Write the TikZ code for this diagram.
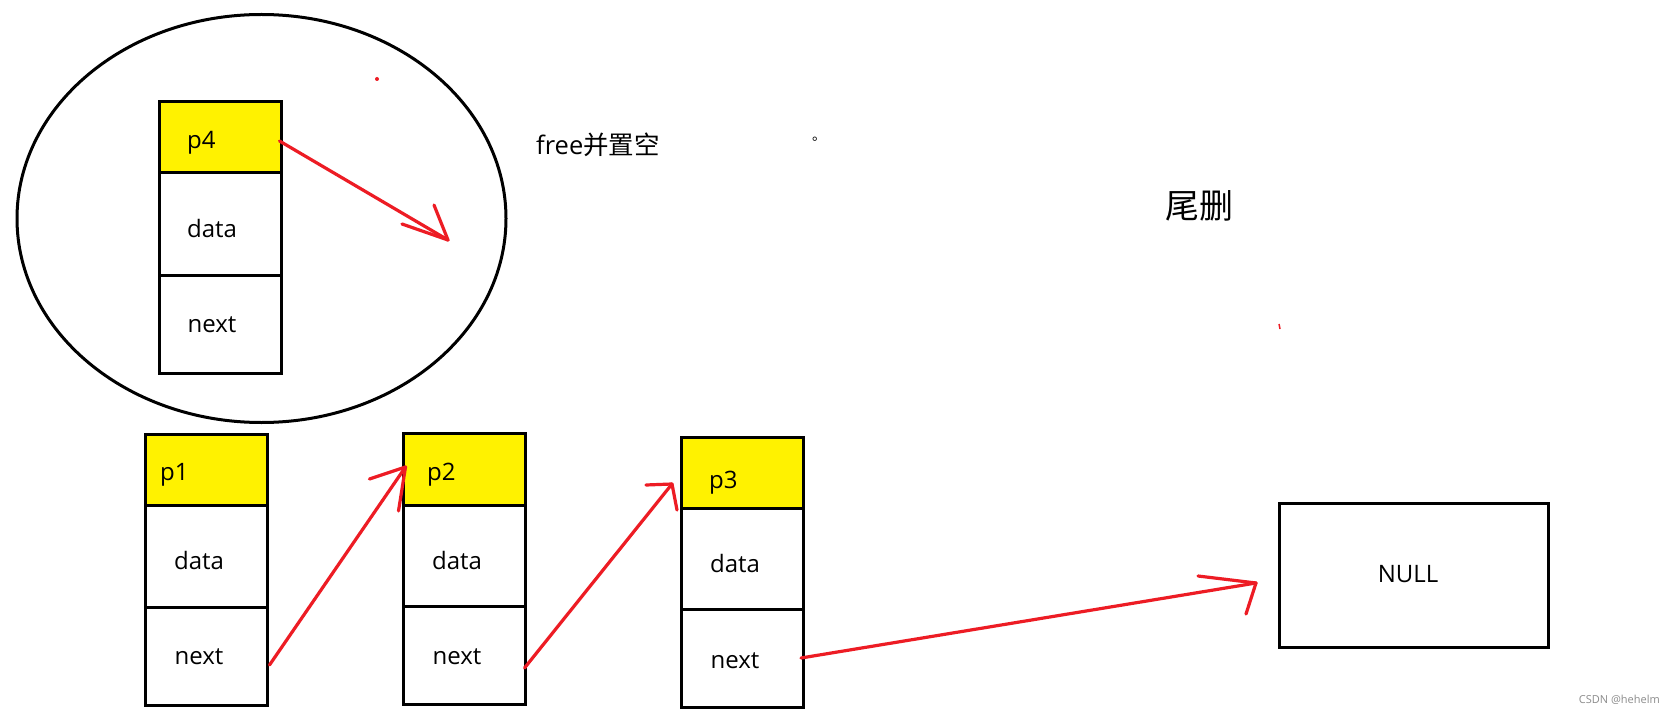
\documentclass[tikz,border=0pt]{standalone}
\usepackage{fontspec}
\setmainfont{Open Sans}
\newfontfamily\cjk{Noto Sans CJK SC}
\usetikzlibrary{calc,shapes.geometric}
\definecolor{pred}{RGB}{237,28,36}
\definecolor{pyellow}{RGB}{255,242,0}
\begin{document}
\begin{tikzpicture}[x=1pt,y=-1pt,
  cell/.style={draw=black, line width=3, inner sep=0, outer sep=0, minimum width=122},
  head/.style={cell, fill=pyellow},
  txt/.style={inner sep=0, font=\fontsize{24}{28}\selectfont},
  rline/.style={draw=pred, line width=3.2, line cap=round}]
\useasboundingbox[fill=white] (0,0) rectangle (1676,714);

% freed node in ellipse
\node[draw=black, line width=3, ellipse, inner sep=0, minimum width=489, minimum height=408] (circ) at (261.5,218.5) {};
\node[head, minimum height=71] (p4h) at (220.5,137.5) {};
\node[cell, minimum height=102] (p4d) at (220.5,224) {};
\node[cell, minimum height=98] (p4n) at (220.5,324) {};
\node[txt, anchor=west] (p4t) at (187,143) {p4};
\node[txt] (p4dt) at (212,228) {data};
\node[txt] (p4nt) at (212,325) {next};

% list nodes
\node[head, minimum height=71] (p1h) at (206.5,469.5) {};
\node[cell, minimum height=102] (p1d) at (206.5,556) {};
\node[cell, minimum height=98] (p1n) at (206.5,656) {};
\node[txt, anchor=west] (p1t) at (160,475) {p1};
\node[txt] (p1dt) at (199,560) {data};
\node[txt] (p1nt) at (199,657) {next};

\node[head, minimum height=72] (p2h) at (464.5,469) {};
\node[cell, minimum height=101] (p2d) at (464.5,555.5) {};
\node[cell, minimum height=98] (p2n) at (464.5,655) {};
\node[txt, anchor=west] (p2t) at (427,475) {p2};
\node[txt] (p2dt) at (457,560) {data};
\node[txt] (p2nt) at (457,657) {next};

\node[head, minimum height=71] (p3h) at (742,472.5) {};
\node[cell, minimum height=101] (p3d) at (742,558.5) {};
\node[cell, minimum height=98] (p3n) at (742,658) {};
\node[txt, anchor=west] (p3t) at (709,483) {p3};
\node[txt] (p3dt) at (735,563) {data};
\node[txt] (p3nt) at (735,661) {next};

\node[cell, minimum width=269, minimum height=144] (null) at (1413.5,575) {};
\node[txt] (nullt) at (1408,574) {NULL};

% texts
\node[inner sep=0, anchor=west, font=\fontsize{25.5}{30}\selectfont] (freet) at (536,145) {free{\cjk 并置空}};
\node[inner sep=0, anchor=base west, font=\fontsize{14}{16}\selectfont\cjk] (dot) at (812,141) {。};
\node[inner sep=0, font=\fontsize{34}{38}\selectfont\cjk] (title) at (1199,206) {尾删};
\node[inner sep=0, anchor=east, text=black!45, font=\fontsize{11}{13}\selectfont] (wm) at (1660,700) {CSDN @hehelm};

% stray marks
\fill[pred] (377,79) circle (2);
\draw[pred, line width=1.5] (1279,324) -- (1280,329);

% arrow end points
\coordinate (t1) at ($(p2h.west)+(2,-2)$);
\coordinate (t2) at ($(p3h.west)+(-9,11.5)$);
\coordinate (t3) at ($(null.west)+(-23,8)$);
\coordinate (t4) at (448,240);

% connectors
\draw[rline] ($(p4h.east)+(-2,3.5)$) -- (t4);
\draw[rline] (t4) -- ++(-14,-35);
\draw[rline] (t4) -- ++(-46,-16);

\draw[rline] ($(p1n.east)+(2,9)$) -- (t1);
\draw[rline] (t1) -- ++(-36,12);
\draw[rline] (t1) -- ++(-7,44);

\draw[rline] ($(p2n.east)+(-1,13)$) -- (t2);
\draw[rline] (t2) -- ++(-26,1);
\draw[rline] (t2) -- ++(5,26);

\draw[rline] ($(p3n.east)+(-2,0)$) -- (t3);
\draw[rline] (t3) -- ++(-58,-7);
\draw[rline] (t3) -- ++(-10,31);
\end{tikzpicture}
\end{document}
